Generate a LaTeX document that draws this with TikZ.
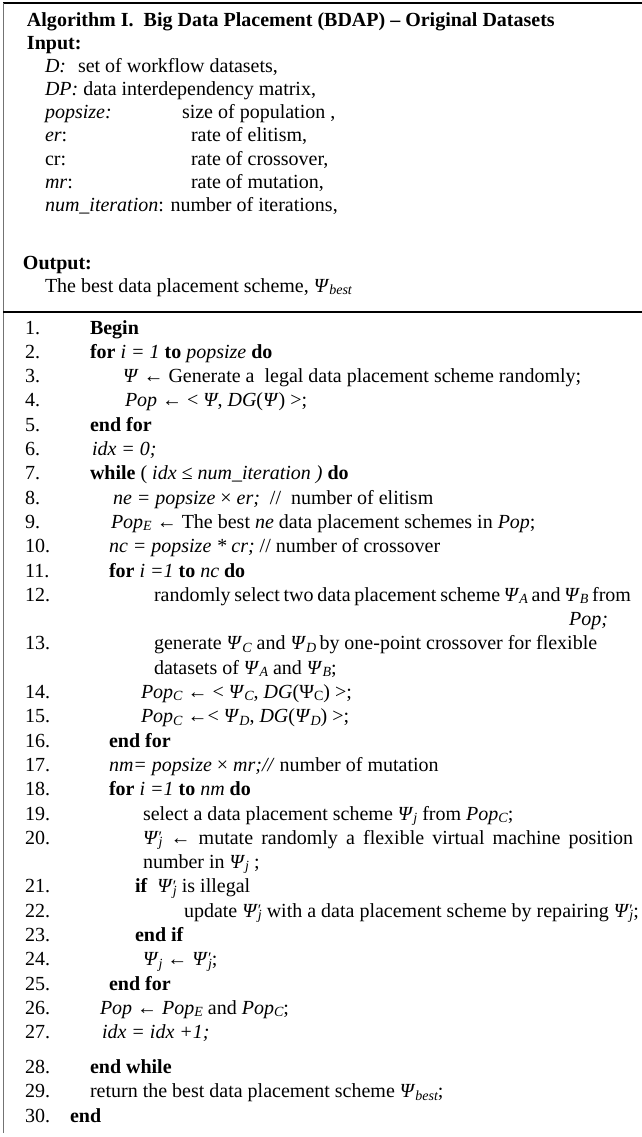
\documentclass[tikz,border=0pt]{standalone}
\usepackage{fontspec}
\setmainfont{Liberation Serif}
% italic maths-like pieces, subscripts and primes (smashed so rows keep their height)
\newcommand\mi[1]{\textit{#1}}
\newcommand\sbs[1]{\smash{\raisebox{-0.25ex}{\fontsize{14}{14}\selectfont\itshape #1}}}
\newcommand\Ps{\textit{Ψ}}
\newcommand\Pss[1]{\textit{Ψ}\sbs{#1}}
\newcommand\Psp[1]{\textit{Ψ}\rlap{\smash{\raisebox{0.2ex}{\fontsize{16}{16}\selectfont ′}}}\sbs{#1}}
\tikzset{
  txt/.style={inner sep=0pt, outer sep=0pt, anchor=base west, font=\fontsize{20}{24}\selectfont},
  num/.style={txt},
  rule/.style={line width=2.5pt, black},
}
% baseline of the k-th body row
\newcommand\by[1]{334+#1*24.3}
\begin{document}
\begin{tikzpicture}[x=1pt,y=-1pt]
\useasboundingbox (0,0) rectangle (642,1137);
\fill[white] (0,0) rectangle (642,1137);
% frame rules
\draw[rule] (3,3) -- (642,3);
\draw[line width=1.6pt, black!55] (3.5,3) -- (3.5,1133);
\draw[rule] (3,312) -- (642,312);

% header
\node[txt] (h0) at (27,27) {\textbf{Algorithm I.\ \ Big Data Placement (BDAP) – Original Datasets}};
\node[txt] (h1) at (27,50) {\textbf{Input:}};
\node[txt] (h2) at (45,73) {\mi{D:}};
\node[txt] (h2b) at (78,73) {set of workflow datasets,};
\node[txt] (h3) at (45,96) {\mi{DP:} data interdependency matrix,};
\node[txt] (h4) at (45,119) {\mi{popsize:}};
\node[txt] (h4b) at (182,119) {size of population ,};
\node[txt] (h5) at (45,142) {\mi{er}:};
\node[txt] (h5b) at (191,142) {rate of elitism,};
\node[txt] (h6) at (45,165) {cr:};
\node[txt] (h6b) at (191,165) {rate of crossover,};
\node[txt] (h7) at (45,188) {\mi{mr}:};
\node[txt] (h7b) at (191,188) {rate of mutation,};
\node[txt] (h8) at (45,211) {\mi{num\_iteration}: number of iterations,};
\node[txt] (h9) at (23,269) {\textbf{Output:}};
\node[txt] (h10) at (45,292) {The best data placement scheme, \Pss{best}};

% line numbers
\foreach \k/\s in {1/0,2/1,3/2,4/3,5/4,6/5,7/6,8/7,9/8,10/9,11/10,12/11,13/13,14/15,15/16,16/17,17/18,18/19,19/20,20/21,21/23,22/24,23/25,24/26,25/27,26/28,27/29}
  \node[num] (n\k) at (25,{\by{\s}}) {\k.};
\foreach \k/\s in {28/30,29/31,30/32}
  \node[num] (n\k) at (25,{\by{\s}+10.5}) {\k.};

% body
\node[txt] (c1) at (90,{\by{0}}) {\textbf{Begin}};
\node[txt] (c2) at (90,{\by{1}}) {\textbf{for} \mi{i = 1} \textbf{to} \mi{popsize} \textbf{do}};
\node[txt] (c3) at (123,{\by{2}}) {\Ps\ ← Generate a\ \ legal data placement scheme randomly;};
\node[txt] (c4) at (125,{\by{3}}) {\mi{Pop} ← < \Ps,\ \mi{DG}(\Ps) >;};
\node[txt] (c5) at (90,{\by{4}}) {\textbf{end for}};
\node[txt] (c6) at (92,{\by{5}}) {\mi{idx = 0;}};
\node[txt] (c7) at (90,{\by{6}}) {\textbf{while} ( \mi{idx ≤ num\_iteration )} \textbf{do}};
\node[txt] (c8) at (113,{\by{7}}) {\mi{ne = popsize} × \mi{er;}\ \ //\ \ number of elitism};
\node[txt] (c9) at (111,{\by{8}}) {\mi{Pop}\sbs{E} ← The best \mi{ne} data placement schemes in \mi{Pop};};
\node[txt] (c10) at (109,{\by{9}}) {\mi{nc = popsize * cr;} // number of crossover};
\node[txt] (c11) at (109,{\by{10}}) {\textbf{for} \mi{i =1} \textbf{to} \mi{nc} \textbf{do}};
\node[txt] (c12) at (154,{\by{11}}) {\makebox[477pt][s]{randomly select two data placement scheme \Pss{A} and \Pss{B} from}};
\node[txt, anchor=base east] (w12) at (608,{\by{12}}) {\mi{Pop;}};
\node[txt] (c13) at (154,{\by{13}}) {generate \Pss{C} and \Pss{D}\,by one-point crossover for flexible};
\node[txt] (w13) at (154,{\by{14}}) {datasets of \Pss{A} and \Pss{B};};
\node[txt] (c14) at (141,{\by{15}}) {\mi{Pop}\sbs{C} ← < \Pss{C}, \mi{DG}(Ψ\smash{\raisebox{-0.25ex}{\fontsize{14}{14}\selectfont C}}) >;};
\node[txt] (c15) at (141,{\by{16}}) {\mi{Pop}\sbs{C} ←< \Pss{D}, \mi{DG}(\Pss{D}) >;};
\node[txt] (c16) at (109,{\by{17}}) {\textbf{end for}};
\node[txt] (c17) at (109,{\by{18}}) {\mi{nm= popsize} × \mi{mr;//} number of mutation};
\node[txt] (c18) at (109,{\by{19}}) {\textbf{for} \mi{i =1} \textbf{to} \mi{nm} \textbf{do}};
\node[txt] (c19) at (143,{\by{20}}) {select a data placement scheme \Pss{j} from \mi{Pop}\sbs{C};};
\node[txt] (c20) at (143,{\by{21}}) {\makebox[490pt][s]{\Psp{j} ← mutate randomly a flexible virtual machine position}};
\node[txt] (w20) at (143,{\by{22}}) {number in \Pss{j} ;};
\node[txt] (c21) at (135,{\by{23}}) {\textbf{if}\ \ \Psp{j} is illegal};
\node[txt] (c22) at (184,{\by{24}}) {update \Psp{j} with a data placement scheme by repairing \Psp{j};};
\node[txt] (c23) at (135,{\by{25}}) {\textbf{end if}};
\node[txt] (c24) at (143,{\by{26}}) {\Pss{j} ← \Psp{j};};
\node[txt] (c25) at (109,{\by{27}}) {\textbf{end for}};
\node[txt] (c26) at (100,{\by{28}}) {\mi{Pop} ← \mi{Pop}\sbs{E} and \mi{Pop}\sbs{C};};
\node[txt] (c27) at (102,{\by{29}}) {\mi{idx = idx +1;}};
\node[txt] (c28) at (90,{\by{30}+10.5}) {\textbf{end while}};
\node[txt] (c29) at (90,{\by{31}+10.5}) {return the best data placement scheme \Pss{best};};
\node[txt] (c30) at (70,{\by{32}+10.5}) {\textbf{end}};
\end{tikzpicture}
\end{document}
